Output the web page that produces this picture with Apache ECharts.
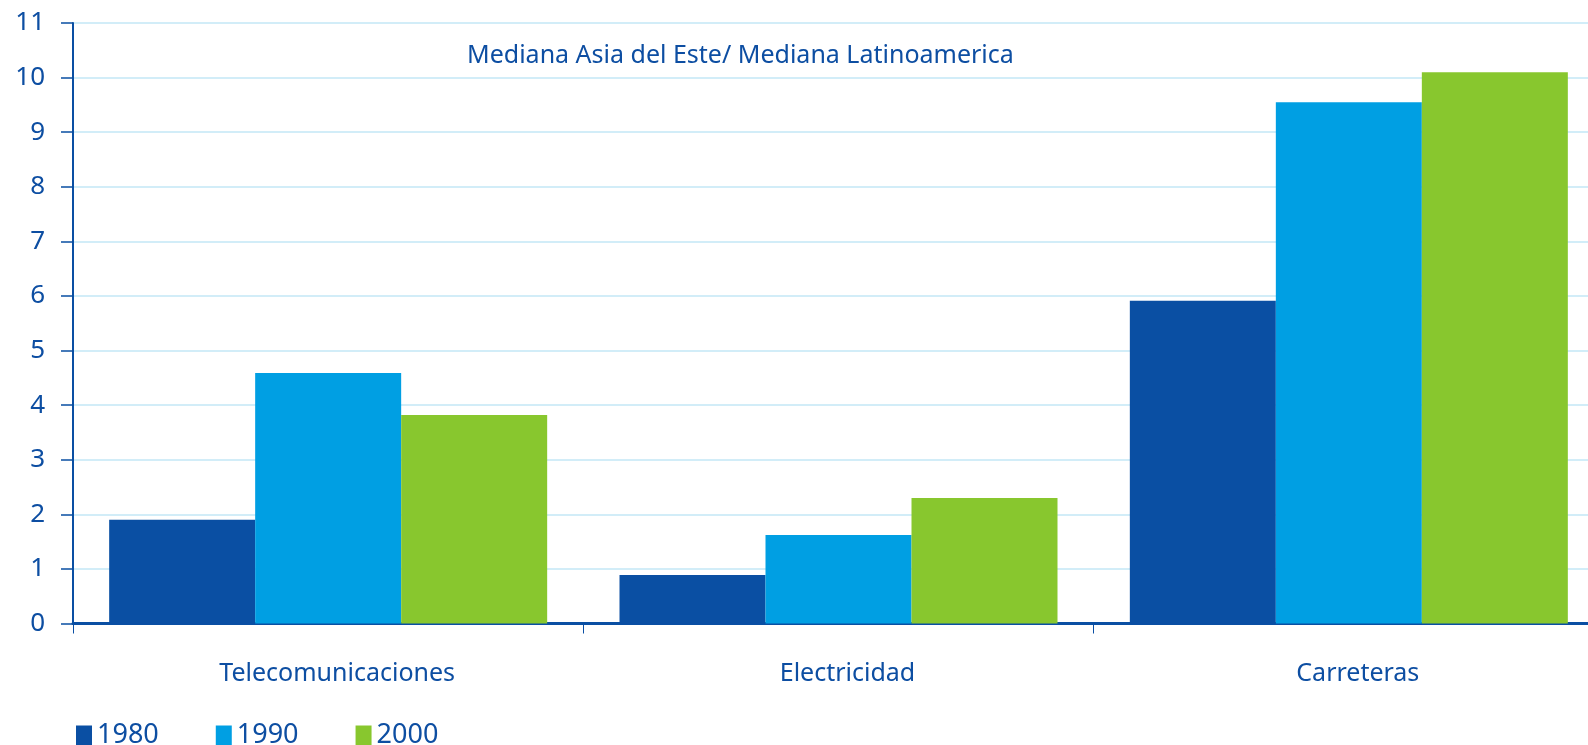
<!DOCTYPE html>
<html>
<head>
<meta charset="utf-8">
<script src="https://cdn.jsdelivr.net/npm/echarts@6/dist/echarts.min.js"></script>
<style>
html,body{margin:0;padding:0;background:#fff;}
#chart{width:1588px;height:745px;}
</style>
</head>
<body>
<div id="chart"></div>
<script>
const categories = ['Telecomunicaciones', 'Electricidad', 'Carreteras'];
const seriesNames = ['1980', '1990', '2000'];
const values1980 = [1.90, 0.89, 5.91];
const values1990 = [4.59, 1.62, 9.55];
const values2000 = [3.82, 2.30, 10.10];
const titleText = 'Mediana Asia del Este/ Mediana Latinoamerica';

const DARK = '#0A4FA3';
const TEXT = '#0D4EA2';
const colors = ['#0A4FA3', '#009FE3', '#88C72E'];
const FONT = 'Noto Sans';

const chart = echarts.init(document.getElementById('chart'), null, {renderer: 'canvas'});
const dataSets = [values1980, values1990, values2000];

chart.setOption({
  animation: false,
  backgroundColor: '#fff',
  color: colors,
  title: {
    text: titleText,
    left: 467,
    top: 43,
    padding: 0,
    textStyle: {color: TEXT, fontFamily: FONT, fontSize: 25, fontWeight: 'normal'}
  },
  legend: {
    data: seriesNames,
    left: 76,
    top: 722,
    padding: 0,
    itemWidth: 16,
    itemHeight: 20,
    itemGap: 57,
    icon: 'rect',
    textStyle: {color: TEXT, fontFamily: FONT, fontSize: 27, padding: [0, 0, 0, 0]}
  },
  grid: {left: 73, right: -16, top: 23, bottom: 121.5, containLabel: false, outerBoundsMode: 'none'},
  xAxis: {
    type: 'category',
    data: categories,
    axisLine: {lineStyle: {color: DARK, width: 3}},
    axisTick: {show: true, length: 10, lineStyle: {color: DARK, width: 1}},
    axisLabel: {color: TEXT, fontFamily: FONT, fontSize: 25, margin: 38, padding: [0, 0, 0, 18]}
  },
  yAxis: {
    type: 'value',
    min: 0,
    max: 11,
    interval: 1,
    axisLine: {show: true, lineStyle: {color: DARK, width: 2}},
    axisTick: {show: true, length: 12, lineStyle: {color: DARK, width: 1.5}},
    axisLabel: {color: TEXT, fontFamily: FONT, fontSize: 26, margin: 28},
    splitLine: {show: true, lineStyle: {color: '#C3E7F6', width: 1.5}}
  },
  series: seriesNames.map((n, i) => ({
    name: n,
    type: 'bar',
    data: dataSets[i],
    barWidth: 146,
    barGap: '0%',
    itemStyle: {color: colors[i]}
  }))
});
</script>
</body>
</html>
